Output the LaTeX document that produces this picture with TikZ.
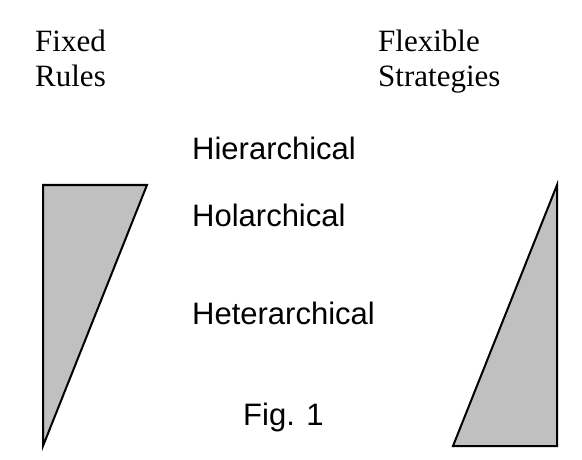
\documentclass[tikz,border=0pt]{standalone}
\usepackage{fontspec}
\setmainfont{Liberation Serif}
\setsansfont{Liberation Sans}
\usetikzlibrary{positioning}
\begin{document}
\begin{tikzpicture}[
				x=1pt,y=-1pt,
				every node/.style={
						inner sep=0pt,
						anchor=base west,
					},
				rulefont/.style={font=\fontsize{31}{35}\selectfont\rmfamily},
				levelfont/.style={font=\fontsize{31}{35}\selectfont\sffamily},
				wedge/.style={draw=black,line width=2pt,fill={rgb,255:red,192;green,192;blue,192},line join=miter},]
			\useasboundingbox (0,0) rectangle (582,460);
			% column heads
			\node[rulefont] (fixed) at (35,52) {Fixed};
			\node[rulefont] (rules) at (35,87) {Rules};
			\node[rulefont] (flexible) at (378,52) {Flexible};
			\node[rulefont] (strategies) at (378,87) {Strategies};
			% levels
			\node[levelfont] (hier) at (192,160) {Hierarchical};
			\node[levelfont] (hol) at (192,226) {Holarchical};
			\node[levelfont] (het) at (192,324) {Heterarchical};
			\node[levelfont] (fig) at (243,425) {Fig. 1};
			% wedges
			\draw[wedge] (43,185) -- (147,185) -- (43,446) -- cycle;
			\draw[wedge] (557,185) -- (557,446) -- (453,446) -- cycle;
		\end{tikzpicture}
\end{document}
